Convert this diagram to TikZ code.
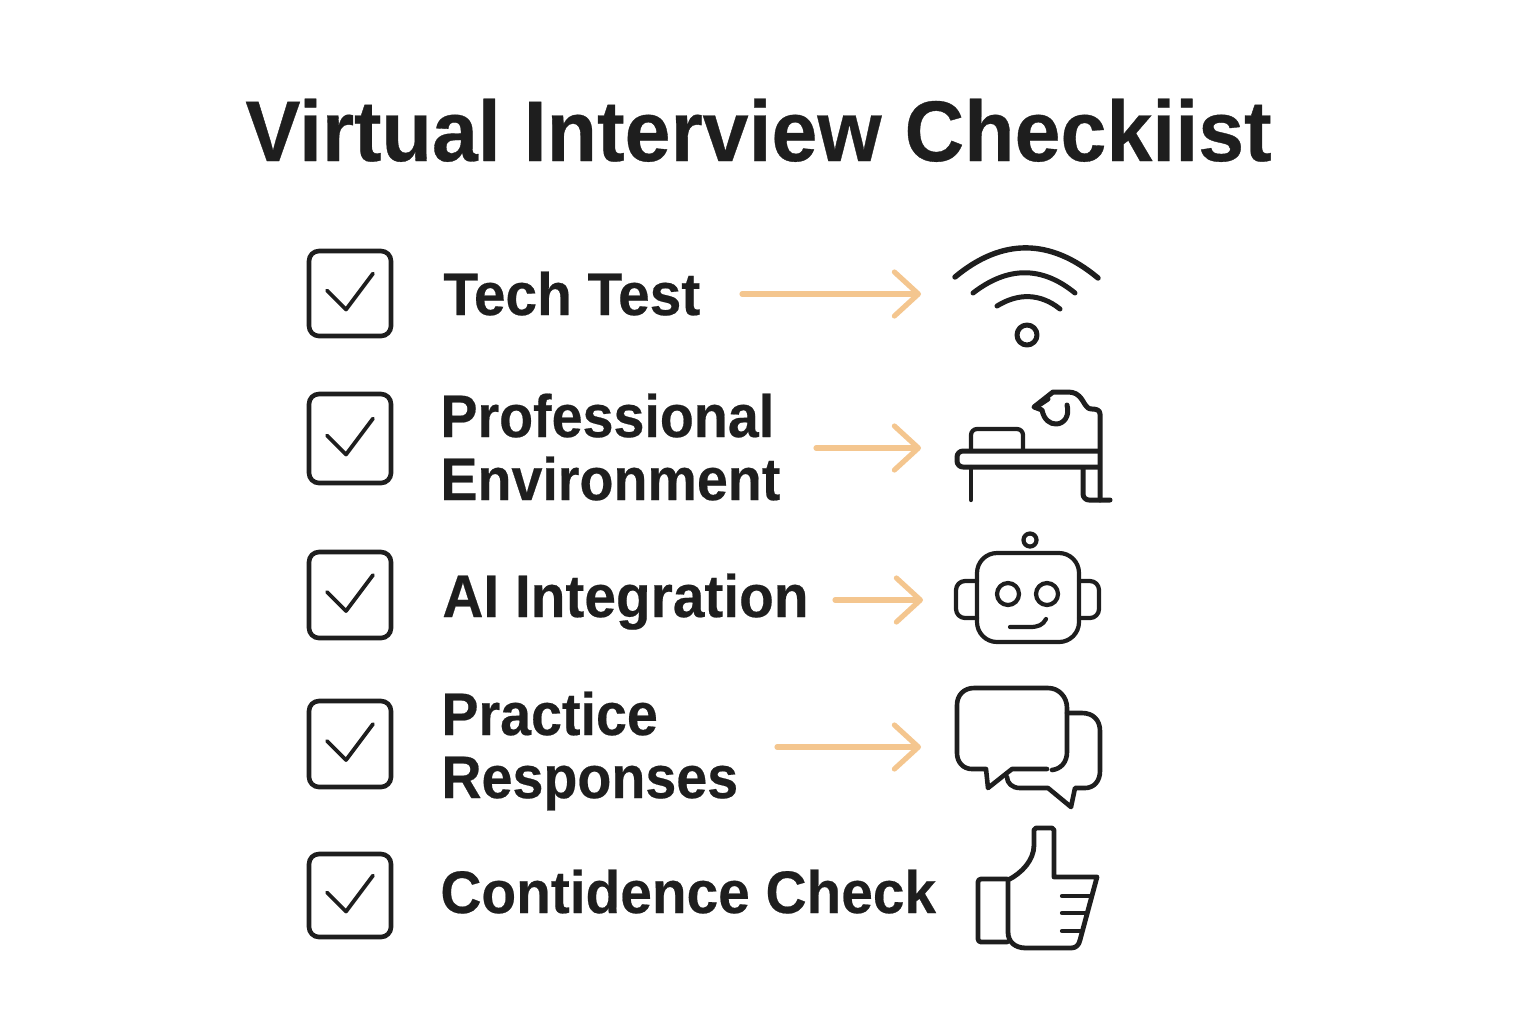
\documentclass[tikz,border=0pt]{standalone}
\usepackage{fontspec}
\setmainfont{Liberation Sans}
\newfontfamily\titlefont{Liberation Sans}[BoldFeatures={FakeStretch=0.96,FakeBold=0.4}]
\newfontfamily\itemfont{Liberation Sans}[BoldFeatures={FakeStretch=0.927,FakeBold=0.35}]
\newfontfamily\wideitemfont{Liberation Sans}[BoldFeatures={FakeStretch=0.947,FakeBold=0.35}]
\usetikzlibrary{arrows.meta}
\definecolor{inkgray}{RGB}{30,30,30}
\definecolor{flowtan}{RGB}{244,198,143}
\tikzset{
  titletext/.style={anchor=base west, inner sep=0pt, text=inkgray, font=\titlefont\fontsize{43}{46}\selectfont\bfseries},
  itemtext/.style={anchor=base west, inner sep=0pt, text=inkgray, align=left, font=\itemfont\fontsize{30}{31.5}\selectfont\bfseries},
  wideitemtext/.style={itemtext, font=\wideitemfont\fontsize{30}{31.5}\selectfont\bfseries},
  tickbox/.style={draw=inkgray, line width=2.3pt, rounded corners=5pt, inner sep=0pt, minimum width=41pt},
  tick/.style={draw=inkgray, line width=1.9pt, line cap=round, line join=round},
  flow/.style={draw=flowtan, line width=2.6pt, line cap=round, -{Straight Barb[length=12pt,width=22pt,round]}},
  icon/.style={draw=inkgray, line width=2.1pt, line cap=round, line join=round}
}
\begin{document}
\begin{tikzpicture}[x=0.5pt,y=-0.5pt]
  \useasboundingbox (0,0) rectangle (1536,1024);
  \node (title) [titletext] at (245,161) {Virtual Interview Checkiist};

  \node (boxa) [tickbox, minimum height=42.5pt] at (350,293.5) {};
  \node (boxb) [tickbox, minimum height=44.5pt] at (350,438.5) {};
  \node (boxc) [tickbox, minimum height=43pt] at (350,595) {};
  \node (boxd) [tickbox, minimum height=43pt] at (350,744) {};
  \node (boxe) [tickbox, minimum height=41.5pt] at (350,895.5) {};
  \foreach \row in {a,b,c,d,e}
    \draw[tick] ([shift={(-23,-3)}]box\row.center) -- ([shift={(-4,16)}]box\row.center) -- ([shift={(23,-20)}]box\row.center);

  \node (tech) [wideitemtext] at (443,315) {Tech Test};
  \node (office) [itemtext] at (440,500) {Professional\\Environment};
  \node (aiwork) [wideitemtext] at (442,617) {AI Integration};
  \node (practice) [itemtext] at (441,798) {Practice\\Responses};
  \node (confidence) [wideitemtext] at (440,913) {Contidence Check};

  % arrow ends
  \coordinate (techtail) at (742,294);
  \coordinate (wifi) at (921,294);
  \coordinate (officetail) at (816,448);
  \coordinate (desk) at (921,448);
  \coordinate (aitail) at (835,600);
  \coordinate (robot) at (923,600);
  \coordinate (practicetail) at (777,747);
  \coordinate (chat) at (921,747);
  \draw[flow] (techtail) -- (wifi);
  \draw[flow] (officetail) -- (desk);
  \draw[flow] (aitail) -- (robot);
  \draw[flow] (practicetail) -- (chat);

  % wifi
  \draw[icon, line width=2.7pt] (955,277) .. controls (1002,238) and (1050,238) .. (1098,278);
  \draw[icon, line width=2.5pt] (973,293) .. controls (1008,266) and (1042,266) .. (1075,293);
  \draw[icon, line width=2.5pt] (997,306) .. controls (1018,293) and (1040,293) .. (1060,309);
  \draw[icon, line width=2.5pt] (1027,335) circle (10);

  % desk
  \draw[icon, line width=2.5pt, rounded corners=3pt] (1098,451) -- (957,451) -- (957,467) -- (1098,467);
  \draw[icon] (971,467) -- (971,500);
  \draw[icon, rounded corners=3pt] (971,450) -- (971,429) -- (1023,429) -- (1023,450);
  \draw[icon, line width=2.5pt] (1100,500) -- (1100,414) .. controls (1100,410) and (1096,409) .. (1092,409)
    .. controls (1085,409) and (1085,402) .. (1079,396) .. controls (1075,392) and (1070,392) .. (1065,392)
    -- (1053,392) -- (1034,407) -- (1042,410) .. controls (1044,420) and (1050,424) .. (1056,424)
    .. controls (1064,424) and (1070,416) .. (1067,405);
  \draw[icon, line width=2.5pt] (1036,407) -- (1048,399);
  \draw[icon, line width=2.5pt, rounded corners=3pt] (1083,468) -- (1083,500) -- (1110,500);

  % robot
  \draw[icon] (1030,540) circle (6.5);
  \draw[icon, rounded corners=10pt] (977,553) rectangle (1079,642);
  \draw[icon, rounded corners=4.5pt] (977,581) -- (956,581) -- (956,618) -- (977,618);
  \draw[icon, rounded corners=4.5pt] (1079,581) -- (1099,581) -- (1099,618) -- (1079,618);
  \draw[icon] (1008,594) circle (11);
  \draw[icon] (1047,594) circle (11);
  \draw[icon] (1010,627) -- (1030,627) .. controls (1038,627) and (1043,625) .. (1046,619);

  % chat
  \draw[icon, line width=2.3pt] (1047,769) -- (1012,769) -- (988,788) -- (986,769) -- (972,769)
    .. controls (963,769) and (957,762) .. (957,753) -- (957,705)
    .. controls (957,695) and (964,688) .. (974,688) -- (1048,688)
    .. controls (1059,688) and (1067,697) .. (1067,708) -- (1067,752)
    .. controls (1067,762) and (1061,769) .. (1052,770);
  \draw[icon, line width=2.3pt] (1067,713) -- (1082,713) .. controls (1093,713) and (1100,720) .. (1100,731)
    -- (1100,771) .. controls (1100,781) and (1094,788) .. (1085,788) -- (1075,788)
    -- (1071,807) -- (1048,788) -- (1020,788) .. controls (1012,788) and (1007,783) .. (1007,777);

  % thumb
  \draw[icon, line width=2.4pt, rounded corners=1.5pt] (1007,879) -- (978,879) -- (978,942) -- (1007,942);
  \draw[icon, line width=2.4pt] (1008,880) .. controls (1022,873) and (1034,860) .. (1034,845) -- (1034,830)
    -- (1036,828) -- (1052,828) -- (1054,830) -- (1054,877) -- (1097,877) -- (1080,940)
    .. controls (1079,945) and (1076,948) .. (1071,948) -- (1026,948)
    .. controls (1015,948) and (1008,942) .. (1008,932) -- cycle;
  \draw[icon] (1062,896) -- (1090,896);
  \draw[icon] (1062,913) -- (1086,913);
  \draw[icon] (1062,931) -- (1081,931);
\end{tikzpicture}
\end{document}
